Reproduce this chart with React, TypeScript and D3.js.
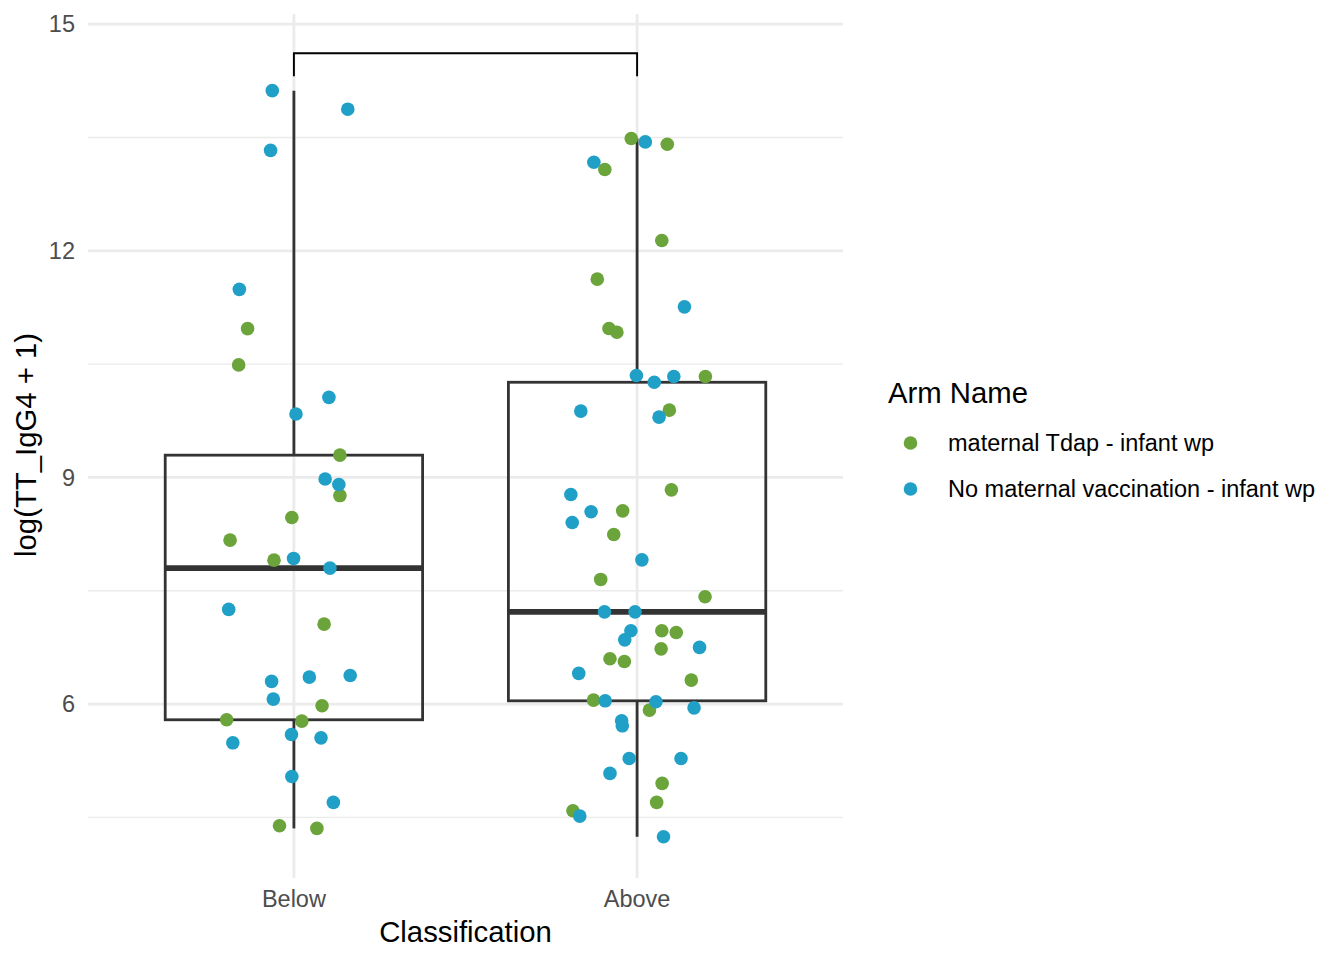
import React from 'react';
import * as d3 from 'd3';

const classes = ['Below', 'Above'];
const arms = ['maternal Tdap - infant wp', 'No maternal vaccination - infant wp'];
const armColors = ['#6ba43a', '#21a0c7'];
const yMajor = [6, 9, 12, 15];
const yMinor = [4.5, 7.5, 10.5, 13.5];

// arm index: 0 = maternal Tdap, 1 = no maternal vaccination
// jitter is in category-step units
const belowValues = [14.12, 13.875, 13.33, 11.49, 10.97, 10.49, 10.06, 9.84, 9.295, 8.98, 8.907, 8.76, 8.47, 8.17, 7.905, 7.928, 7.8, 7.253, 7.058, 6.3, 6.357, 6.379, 6.066, 5.977, 5.792, 5.774, 5.487, 5.598, 5.553, 5.042, 4.698, 4.389, 4.354];
const belowJitter = [-0.063, 0.157, -0.068, -0.159, -0.135, -0.161, 0.102, 0.006, 0.134, 0.091, 0.131, 0.134, -0.006, -0.186, -0.058, -0.001, 0.105, -0.19, 0.088, -0.065, 0.045, 0.164, -0.06, 0.082, -0.196, 0.023, -0.178, -0.007, 0.079, -0.006, 0.115, -0.042, 0.067];
const belowArm = [1, 1, 1, 1, 0, 0, 1, 1, 0, 1, 1, 0, 0, 0, 0, 1, 1, 1, 0, 1, 1, 1, 1, 0, 0, 0, 1, 1, 1, 1, 1, 0, 0];

const aboveValues = [13.487, 13.442, 13.41, 13.173, 13.077, 12.137, 11.625, 11.258, 10.972, 10.923, 10.35, 10.26, 10.337, 10.337, 9.878, 9.891, 9.798, 8.836, 8.775, 8.545, 8.558, 8.404, 8.245, 7.909, 7.65, 7.42, 7.221, 7.221, 6.97, 6.85, 6.97, 6.948, 6.731, 6.75, 6.6, 6.564, 6.406, 6.317, 6.052, 6.043, 6.03, 5.92, 5.95, 5.779, 5.712, 5.28, 5.28, 5.082, 4.95, 4.698, 4.587, 4.517, 4.243];
const aboveJitter = [-0.017, 0.024, 0.088, -0.126, -0.094, 0.072, -0.116, 0.138, -0.082, -0.059, -0.002, 0.05, 0.107, 0.199, -0.164, 0.094, 0.064, 0.1, -0.193, -0.134, -0.042, -0.189, -0.068, 0.014, -0.106, 0.198, -0.095, -0.006, -0.018, -0.036, 0.072, 0.114, 0.07, 0.182, -0.079, -0.037, -0.17, 0.158, -0.127, -0.093, 0.055, 0.036, 0.166, -0.045, -0.043, -0.023, 0.128, -0.079, 0.073, 0.057, -0.187, -0.167, 0.077];
const aboveArm = [0, 1, 0, 1, 0, 0, 0, 1, 0, 0, 1, 1, 1, 0, 1, 0, 1, 0, 1, 1, 0, 1, 0, 1, 0, 0, 1, 1, 1, 1, 0, 0, 0, 1, 0, 0, 1, 0, 0, 1, 1, 0, 1, 1, 1, 1, 1, 1, 0, 0, 0, 1, 1];

// significance bracket (y values)
const bracketTop = 14.616;
const bracketEnd = 14.31;

const font = 'Liberation Sans, Arial, Helvetica, sans-serif';

const groups = [
  { name: classes[0], values: belowValues, jitter: belowJitter, arm: belowArm },
  { name: classes[1], values: aboveValues, jitter: aboveJitter, arm: aboveArm },
];

function boxStats(values: number[]) {
  const s = values.slice().sort(d3.ascending);
  const q1 = d3.quantile(s, 0.25)!;
  const med = d3.quantile(s, 0.5)!;
  const q3 = d3.quantile(s, 0.75)!;
  const iqr = q3 - q1;
  const lo = d3.min(s.filter(v => v >= q1 - 1.5 * iqr))!;
  const hi = d3.max(s.filter(v => v <= q3 + 1.5 * iqr))!;
  return { q1, med, q3, lo, hi };
}

export default function App() {
  const left = 88, right = 843, top = 14, bottom = 876;
  const x = d3.scalePoint<string>().domain(classes).range([left, right]).padding(0.6);
  const step = x.step();
  const y = d3.scaleLinear().domain([3.724, 15.135]).range([bottom, top]);

  const points = groups.flatMap(g =>
    g.values.map((v, i) => ({ cx: x(g.name)! + g.jitter[i] * step, cy: y(v), arm: g.arm[i] }))
  );
  // draw green first so blue sits on top, like the reference
  const ordered = [...points.filter(p => p.arm === 0), ...points.filter(p => p.arm === 1)];

  const x1 = x(classes[0])!, x2 = x(classes[1])!;

  return (
    <svg width={1344} height={960} style={{ position: 'absolute', left: 0, top: 0, background: '#fff' }}>
      <g>
        {yMinor.map(v => (
          <line key={'mn' + v} x1={left} x2={right} y1={y(v)} y2={y(v)} stroke="#ebebeb" strokeWidth={1.4} />
        ))}
        {yMajor.map(v => (
          <line key={'mj' + v} x1={left} x2={right} y1={y(v)} y2={y(v)} stroke="#ebebeb" strokeWidth={2.8} />
        ))}
        {classes.map(c => (
          <line key={'v' + c} x1={x(c)} x2={x(c)} y1={top} y2={bottom + 2} stroke="#ebebeb" strokeWidth={2.8} />
        ))}
      </g>

      {groups.map(g => {
        const st = boxStats(g.values);
        const cx = x(g.name)!;
        const hw = 0.375 * step;
        return (
          <g key={g.name} stroke="#333333" fill="none">
            <line x1={cx} x2={cx} y1={y(st.q3)} y2={y(st.hi)} strokeWidth={2.8} />
            <line x1={cx} x2={cx} y1={y(st.q1)} y2={y(st.lo)} strokeWidth={2.8} />
            <rect x={cx - hw} width={2 * hw} y={y(st.q3)} height={y(st.q1) - y(st.q3)} strokeWidth={2.8} />
            <line x1={cx - hw} x2={cx + hw} y1={y(st.med)} y2={y(st.med)} strokeWidth={5.6} />
          </g>
        );
      })}

      <path
        d={`M${x1},${y(bracketEnd)}V${y(bracketTop)}H${x2}V${y(bracketEnd)}`}
        fill="none"
        stroke="#000"
        strokeWidth={1.9}
      />

      <g>
        {ordered.map((p, i) => (
          <circle key={i} cx={p.cx} cy={p.cy} r={6.8} fill={armColors[p.arm]} />
        ))}
      </g>

      <g fontFamily={font} fontSize={23.5} fill="#4d4d4d">
        {yMajor.map(v => (
          <text key={v} x={75} y={y(v)} dy="0.35em" textAnchor="end">{v}</text>
        ))}
        {classes.map(c => (
          <text key={c} x={x(c)} y={906.5} textAnchor="middle">{c}</text>
        ))}
      </g>

      <g fontFamily={font} fontSize={29.3} fill="#000">
        <text x={(left + right) / 2} y={941.5} textAnchor="middle">Classification</text>
        <text transform={`translate(35.5,${(top + bottom) / 2}) rotate(-90)`} textAnchor="middle">log(TT_IgG4 + 1)</text>
        <text x={888} y={403}>Arm Name</text>
      </g>

      <g fontFamily={font} fontSize={23.5} fill="#000">
        {arms.map((a, i) => (
          <g key={a} transform={`translate(0,${443 + i * 46})`}>
            <circle cx={910.5} cy={0} r={6.8} fill={armColors[i]} />
            <text x={948} y={0} dy="0.35em">{a}</text>
          </g>
        ))}
      </g>
    </svg>
  );
}
